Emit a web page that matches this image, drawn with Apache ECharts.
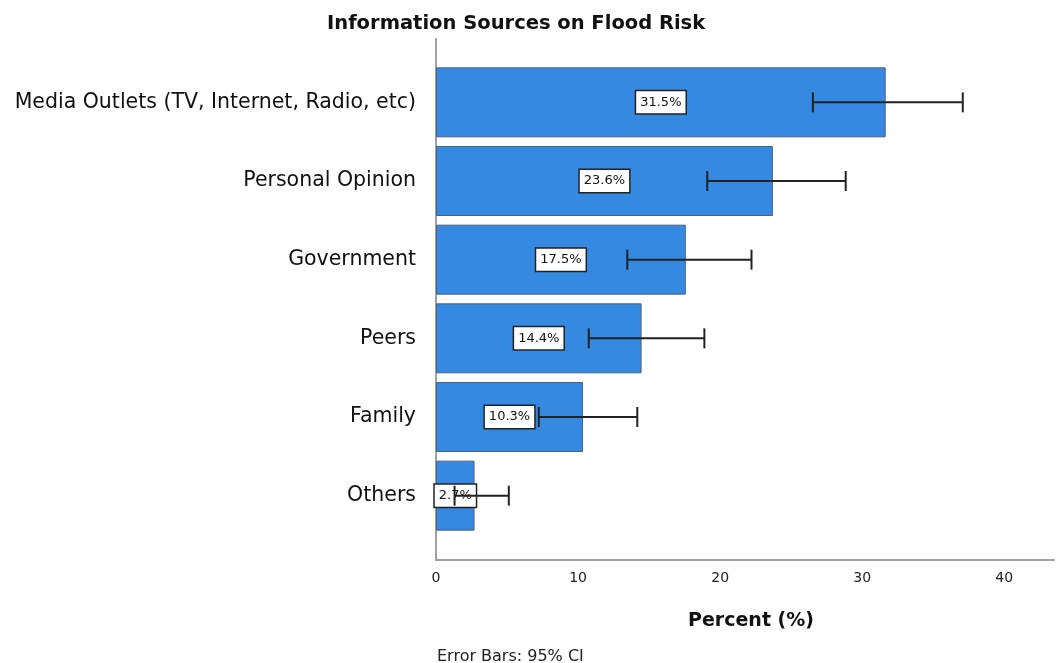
<!DOCTYPE html>
<html>
<head>
<meta charset="utf-8">
<script src="https://cdn.jsdelivr.net/npm/echarts@6/dist/echarts.min.js"></script>
<style>
  html, body { margin: 0; padding: 0; background: #fff; }
  #chart { width: 1057px; height: 663px; }
</style>
</head>
<body>
<div id="chart"></div>
<script>
// Information sources on flood risk: share of respondents with 95% CI
const categories = [
  'Media Outlets (TV, Internet, Radio, etc)',
  'Personal Opinion',
  'Government',
  'Peers',
  'Family',
  'Others'
];
const percents = [31.5, 23.6, 17.5, 14.4, 10.3, 2.7];
const ciLower = [26.4, 19.0, 13.4, 10.7, 7.2, 1.3];
const ciUpper = [36.9, 28.7, 22.1, 18.8, 14.1, 5.1];
const xTicks = [0, 10, 20, 30, 40];

const FONT = 'DejaVu Sans';
const X_MAX = 43.5;

const chart = echarts.init(document.getElementById('chart'), null, { renderer: 'canvas' });

const errorData = categories.map((c, i) => [ciLower[i], ciUpper[i], i]);

chart.setOption({
  animation: false,
  backgroundColor: '#fff',
  title: [
    {
      text: 'Information Sources on Flood Risk',
      left: 322, top: 9,
      textStyle: { fontFamily: FONT, fontSize: 19.5, fontWeight: 'bold', color: '#111' }
    },
    {
      text: 'Error Bars: 95% CI',
      left: 432, top: 644,
      textStyle: { fontFamily: FONT, fontSize: 16, fontWeight: 'normal', color: '#222' }
    }
  ],
  grid: [
    // bars and category labels
    { left: 436, right: 0, top: 63, bottom: 128 },
    // full-height frame carrying the axis lines and value ticks
    { left: 436, right: 0, top: 39, bottom: 103 }
  ],
  xAxis: [
    {
      gridIndex: 0, type: 'value', min: 0, max: X_MAX, interval: 10,
      show: false
    },
    {
      gridIndex: 1, type: 'value', min: 0, max: X_MAX, interval: 10,
      axisLine: { show: true, lineStyle: { color: '#a0a0a0', width: 2 } },
      axisTick: { show: false },
      splitLine: { show: false },
      axisLabel: {
        fontFamily: FONT, fontSize: 14, color: '#222', margin: 11,
        formatter: v => (xTicks.indexOf(v) >= 0 ? String(v) : '')
      },
      name: 'Percent (%)',
      nameLocation: 'middle',
      nameGap: 52,
      nameTextStyle: { fontFamily: FONT, fontSize: 19, fontWeight: 'bold', color: '#111', padding: [0, 0, 0, 12] }
    }
  ],
  yAxis: [
    {
      gridIndex: 0, type: 'category', data: categories, inverse: true,
      axisLine: { show: false },
      axisTick: { show: false },
      splitLine: { show: false },
      axisLabel: { fontFamily: FONT, fontSize: 20.5, color: '#111', margin: 20 }
    },
    {
      gridIndex: 1, type: 'value', min: 0, max: 1,
      axisLine: { show: true, lineStyle: { color: '#a0a0a0', width: 2 } },
      axisTick: { show: false },
      axisLabel: { show: false },
      splitLine: { show: false }
    }
  ],
  series: [
    {
      type: 'bar',
      xAxisIndex: 0, yAxisIndex: 0,
      data: percents,
      barWidth: 70,
      z: 2,
      itemStyle: { color: '#3589e0', borderColor: '#4a6283', borderWidth: 1 },
      label: {
        show: true,
        position: 'inside',
        formatter: p => p.value.toFixed(1) + '%',
        fontFamily: FONT, fontSize: 13, color: '#111',
        backgroundColor: '#fff',
        borderColor: '#222', borderWidth: 1.5,
        padding: [5, 4, 4, 4]
      }
    },
    {
      type: 'custom',
      xAxisIndex: 0, yAxisIndex: 0,
      z: 10,
      data: errorData,
      encode: { x: [0, 1], y: 2 },
      renderItem: (params, api) => {
        const cat = api.value(2);
        const lo = api.coord([api.value(0), cat]);
        const hi = api.coord([api.value(1), cat]);
        const cap = 10;
        const style = { stroke: '#222', lineWidth: 2, fill: null };
        return {
          type: 'group',
          children: [
            { type: 'line', shape: { x1: lo[0], y1: lo[1], x2: hi[0], y2: hi[1] }, style },
            { type: 'line', shape: { x1: lo[0], y1: lo[1] - cap, x2: lo[0], y2: lo[1] + cap }, style },
            { type: 'line', shape: { x1: hi[0], y1: hi[1] - cap, x2: hi[0], y2: hi[1] + cap }, style }
          ]
        };
      }
    }
  ]
});
</script>
</body>
</html>
